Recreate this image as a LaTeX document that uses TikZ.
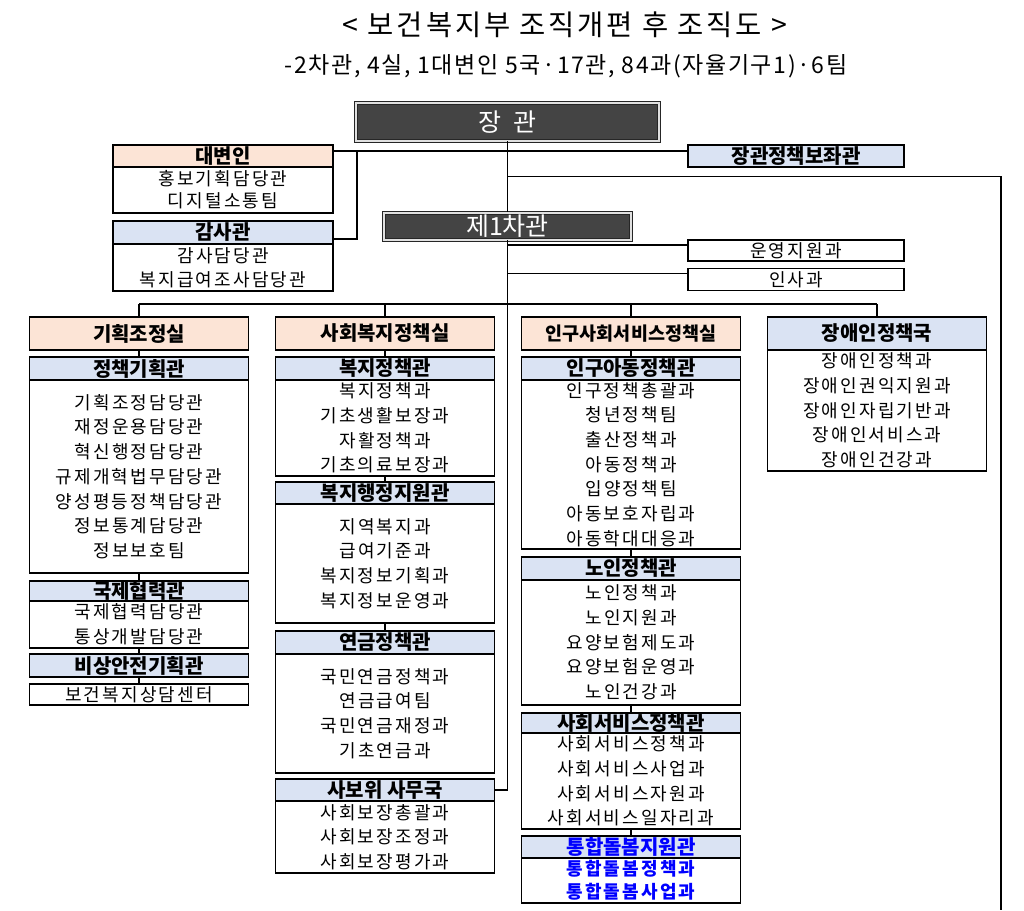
\documentclass[tikz,border=0pt]{standalone}
\usepackage{fontspec}
\setmainfont{Noto Sans CJK KR}
\newfontfamily\bodyfont[LetterSpace=12]{Noto Sans CJK KR}
\newfontfamily\titlefont[LetterSpace=10]{Noto Sans CJK KR}
\newfontfamily\subfont[LetterSpace=7]{Noto Sans CJK KR}
\definecolor{peach}{RGB}{252,228,214}
\definecolor{paleblue}{RGB}{218,227,243}
\definecolor{bossgray}{RGB}{68,68,68}
\definecolor{newblue}{RGB}{0,0,255}
\begin{document}
\begin{tikzpicture}[x=1pt, y=-1pt,
  box/.style={rectangle, draw, line width=1.6pt, inner sep=0pt, minimum width=219pt},
  office/.style={box, fill=peach, font=\fontsize{20}{22}\selectfont\bfseries},
  bureau/.style={box, fill=paleblue, font=\fontsize{20}{22}\selectfont\bfseries},
  unit/.style={box, fill=white, align=center, font=\bodyfont\fontsize{18}{24.7}\selectfont},
  chief/.style={rectangle, draw=black!85, line width=0.8pt, double=black!12, double distance=2pt,
    fill=bossgray, text=white, inner sep=0pt, font=\fontsize{25}{27}\selectfont},
  link/.style={line width=1.3pt}
]
\useasboundingbox (0,0) rectangle (1024,910);

\node (title) at (565,25) {\titlefont\fontsize{28.5}{30}\selectfont < 보건복지부 조직개편 후 조직도 >};
\node (subtitle) at (566,66) {\subfont\fontsize{23}{25}\selectfont -2차관, 4실, 1대변인 5국·17관, 84과(자율기구1)·6팀};

% minister and first vice minister
\node[chief, minimum width=303pt, minimum height=38pt] (minister) at (507.5,121.7) {장\hspace{0.45em}관};
\node[chief, minimum width=247pt, minimum height=27pt] (vice1) at (507.5,226.2) {제1차관};

\node[office, minimum width=220pt, minimum height=22pt] (spk) at (223,156) {대변인};
\node[unit, minimum width=220pt, minimum height=46pt, font=\bodyfont\fontsize{18}{22}\selectfont] (spku) at (223,190) {홍보기획담당관\\디지털소통팀};
\node[bureau, minimum width=220pt, minimum height=23pt] (audit) at (223,232.5) {감사관};
\node[unit, minimum width=220pt, minimum height=47pt, font=\bodyfont\fontsize{18}{24}\selectfont] (auditu) at (223,267.5) {감사담당관\\복지급여조사담당관};

\node[bureau, minimum width=216pt, minimum height=22pt] (aide) at (796,156) {장관정책보좌관};
\node[unit, minimum width=216pt, minimum height=21pt] (ops) at (796,250.5) {운영지원과};
\node[unit, minimum width=216pt, minimum height=22pt] (hr) at (796,279.3) {인사과};

% planning office
\node[office, minimum height=33pt] (plan) at (139,333.5) {기획조정실};
\node[bureau, minimum height=23pt] (plan1) at (139,368.5) {정책기획관};
\node[unit, minimum height=193pt] (plan1u) at (139,476.5) {기획조정담당관\\재정운용담당관\\혁신행정담당관\\규제개혁법무담당관\\양성평등정책담당관\\정보통계담당관\\정보보호팀};
\node[bureau, minimum height=20pt] (plan2) at (139,591) {국제협력관};
\node[unit, minimum height=47pt, font=\bodyfont\fontsize{18}{25}\selectfont] (plan2u) at (139,624.5) {국제협력담당관\\통상개발담당관};
\node[bureau, minimum height=23pt] (plan3) at (139,665.5) {비상안전기획관};
\node[unit, minimum height=21pt] (plan4) at (139,694.5) {보건복지상담센터};

% social welfare policy office
\node[office, minimum height=33pt] (welfare) at (385,333.5) {사회복지정책실};
\node[bureau, minimum height=23pt] (wel1) at (385,368.5) {복지정책관};
\node[unit, minimum height=96pt] (wel1u) at (385,428) {복지정책과\\기초생활보장과\\자활정책과\\기초의료보장과};
\node[bureau, minimum height=22pt] (wel2) at (385,493) {복지행정지원관};
\node[unit, minimum height=119pt] (wel2u) at (385,563.5) {지역복지과\\급여기준과\\복지정보기획과\\복지정보운영과};
\node[bureau, minimum height=23pt] (wel3) at (385,642.5) {연금정책관};
\node[unit, minimum height=119pt] (wel3u) at (385,713.5) {국민연금정책과\\연금급여팀\\국민연금재정과\\기초연금과};
\node[bureau, minimum height=22pt] (sbw) at (385,790) {사보위 사무국};
\node[unit, minimum height=72pt] (sbwu) at (385,837) {사회보장총괄과\\사회보장조정과\\사회보장평가과};

% population and social service policy office
\node[office, minimum height=33pt, font=\fontsize{18.5}{20}\selectfont\bfseries] (pop) at (631,333.5) {인구사회서비스정책실};
\node[bureau, minimum height=23pt] (pop1) at (631,368.5) {인구아동정책관};
\node[unit, minimum height=169pt] (pop1u) at (631,464.5) {인구정책총괄과\\청년정책팀\\출산정책과\\아동정책과\\입양정책팀\\아동보호자립과\\아동학대대응과};
\node[bureau, minimum height=23pt] (pop2) at (631,568.5) {노인정책관};
\node[unit, minimum height=125pt] (pop2u) at (631,642.5) {노인정책과\\노인지원과\\요양보험제도과\\요양보험운영과\\노인건강과};
\node[bureau, minimum height=20pt] (pop3) at (631,723) {사회서비스정책관};
\node[unit, minimum height=96pt] (pop3u) at (631,781) {사회서비스정책과\\사회서비스사업과\\사회서비스자원과\\사회서비스일자리과};
\node[bureau, minimum height=22pt, text=newblue] (pop4) at (631,847) {통합돌봄지원관};
\node[unit, minimum height=45pt, text=newblue, font=\bodyfont\fontsize{18}{23}\selectfont\bfseries] (pop4u) at (631,880.5) {통합돌봄정책과\\통합돌봄사업과};

% disability policy bureau
\node[bureau, minimum height=33pt] (disab) at (877,333.5) {장애인정책국};
\node[unit, minimum height=121pt] (disabu) at (877,410.5) {장애인정책과\\장애인권익지원과\\장애인자립기반과\\장애인서비스과\\장애인건강과};

\coordinate (tap) at (357,151);
\coordinate (v2tap) at (507.5,176.5);
\coordinate (v2end) at (1001,910);
\coordinate (bus) at (507.5,304);

\draw[link] (minister) -- (vice1);
\draw[link] ([yshift=5pt]spk.east) -- ([yshift=5pt]aide.west);
\draw[link] (tap) |- ([yshift=-6.5pt]audit.east);
\draw[link] (v2tap) -| (v2end);
\draw[link] ([yshift=5.5pt]ops.west) -| (vice1.south);
\draw[link] ([yshift=6pt]hr.west) -| (vice1.south);
\draw[link] (vice1.south) |- (sbw.east);
\draw[link] (plan.north |- bus) -- (disab.north |- bus);
\foreach \c in {plan,welfare,pop,disab}
  \draw[link] (\c.north) -- (\c.north |- bus);

\draw[link] (plan) -- (plan1);
\draw[link] (plan1u) -- (plan2);
\draw[link] (plan2u) -- (plan3);
\draw[link] (plan3) -- (plan4);
\draw[link] (welfare) -- (wel1);
\draw[link] (wel1u) -- (wel2);
\draw[link] (wel2u) -- (wel3);
\draw[link] (pop) -- (pop1);
\draw[link] (pop1u) -- (pop2);
\draw[link] (pop2u) -- (pop3);
\draw[link] (pop3u) -- (pop4);

\end{tikzpicture}
\end{document}
